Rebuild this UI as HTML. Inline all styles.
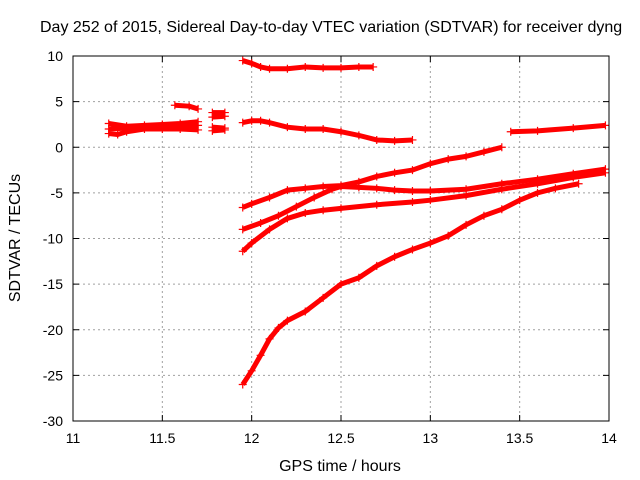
<!DOCTYPE html>
<html><head><meta charset="utf-8"><style>
body{margin:0;background:#fff}
svg{display:block;font-family:"Liberation Sans",sans-serif}
</style></head><body>
<svg id="chart" width="640" height="480" viewBox="0 0 640 480">
<text x="40" y="32" font-size="16">Day 252 of 2015, Sidereal Day-to-day VTEC variation (SDTVAR) for receiver dyng</text>
<g id="grid"></g>
<g id="ticks"></g>
<g id="series"></g>
<rect x="73" y="56" width="536" height="365" fill="none" stroke="#000" stroke-width="1"/>
<text x="340" y="471" font-size="16" text-anchor="middle">GPS time / hours</text>
<text transform="translate(20,238) rotate(-90)" font-size="16" text-anchor="middle">SDTVAR / TECUs</text>
</svg>
<script>
const xTicks=[11,11.5,12,12.5,13,13.5,14];
const xTickLabels=["11","11.5","12","12.5","13","13.5","14"];
const yTicks=[10,5,0,-5,-10,-15,-20,-25,-30];
const yTickLabels=["10","5","0","-5","-10","-15","-20","-25","-30"];
const sA=[[11.95,9.5],[12.0,9.2],[12.05,8.8],[12.1,8.6],[12.2,8.6],[12.3,8.8],[12.4,8.7],[12.5,8.7],[12.6,8.8],[12.68,8.8]];
const sB=[[11.95,2.7],[12.0,2.9],[12.05,2.9],[12.1,2.7],[12.2,2.2],[12.3,2.0],[12.4,2.0],[12.5,1.7],[12.6,1.3],[12.7,0.8],[12.8,0.7],[12.9,0.8]];
const sC1=[[11.2,2.6],[11.3,2.3],[11.4,2.4],[11.5,2.5],[11.6,2.6],[11.7,2.8]];
const sC2=[[11.2,1.5],[11.25,1.4],[11.3,1.7],[11.4,2.0],[11.5,2.0],[11.6,2.0],[11.7,1.9]];
const sC3=[[11.2,2.0],[11.3,2.1],[11.4,2.2],[11.5,2.3],[11.6,2.3],[11.7,2.4]];
const sC4=[[11.57,4.6],[11.65,4.5],[11.7,4.2]];
const sC5=[[11.78,3.8],[11.85,3.8]];
const sC6=[[11.78,3.3],[11.85,3.4]];
const sC7=[[11.78,2.2],[11.85,2.1]];
const sC8=[[11.78,1.8],[11.85,1.9]];
const sD=[[13.45,1.7],[13.6,1.8],[13.8,2.1],[13.98,2.4]];
const sE=[[11.95,-6.6],[12.0,-6.2],[12.1,-5.5],[12.2,-4.7],[12.3,-4.5],[12.4,-4.3],[12.5,-4.2],[12.6,-3.8],[12.7,-3.2],[12.8,-2.8],[12.9,-2.5],[13.0,-1.8],[13.1,-1.3],[13.2,-1.0],[13.3,-0.5],[13.4,0.0]];
const sF=[[11.95,-9.0],[12.05,-8.3],[12.15,-7.5],[12.25,-6.5],[12.35,-5.5],[12.45,-4.6],[12.5,-4.3],[12.6,-4.4],[12.7,-4.5],[12.8,-4.7],[12.9,-4.8],[13.0,-4.8],[13.2,-4.6],[13.4,-4.0],[13.6,-3.5],[13.8,-2.9],[13.98,-2.4]];
const sG=[[11.95,-11.4],[12.0,-10.5],[12.1,-9.0],[12.2,-7.8],[12.3,-7.2],[12.4,-6.9],[12.5,-6.7],[12.7,-6.3],[12.9,-6.0],[13.0,-5.8],[13.2,-5.3],[13.4,-4.6],[13.6,-4.0],[13.8,-3.3],[13.98,-2.8]];
const sH=[[11.95,-26],[12.0,-24.5],[12.05,-22.8],[12.1,-21],[12.15,-19.8],[12.2,-19.0],[12.3,-18.0],[12.4,-16.5],[12.5,-15.0],[12.6,-14.3],[12.7,-13.0],[12.8,-12.0],[12.9,-11.2],[13.0,-10.5],[13.1,-9.7],[13.2,-8.5],[13.3,-7.5],[13.4,-6.8],[13.5,-5.8],[13.6,-5.0],[13.7,-4.5],[13.83,-4.0]];
const allSeries=[sA,sB,sC1,sC2,sC3,sC4,sC5,sC6,sC7,sC8,sD,sE,sF,sG,sH];

const X=h=>73+(h-11)*536/3;
const Y=v=>56+(10-v)*365/40;
const NS="http://www.w3.org/2000/svg";
const grid=document.getElementById('grid'),ticks=document.getElementById('ticks'),ser=document.getElementById('series');
function mk(t,a,p){const e=document.createElementNS(NS,t);for(const k in a)e.setAttribute(k,a[k]);p.appendChild(e);return e;}
xTicks.forEach((t,i)=>{
  const x=X(t);
  if(i>0&&i<xTicks.length-1){const g=mk('line',{x1:x,x2:x,y1:56,y2:421,stroke:'#a0a0a0','stroke-dasharray':'2,3'},grid);
  
  }
  const a=mk('line',{x1:x,x2:x,y1:421,y2:415,stroke:'#000'},ticks);
  
  
  const b=mk('line',{x1:x,x2:x,y1:56,y2:62,stroke:'#000'},ticks);
  
  
  const l=mk('text',{x:x,y:443,'font-size':14,'text-anchor':'middle'},ticks);l.textContent=xTickLabels[i];
  
  
});
yTicks.forEach((t,i)=>{
  const y=Y(t);
  if(i>0&&i<yTicks.length-1){const g=mk('line',{x1:73,x2:609,y1:y,y2:y,stroke:'#a0a0a0','stroke-dasharray':'2,3'},grid);
  
  }
  const a=mk('line',{x1:73,x2:79,y1:y,y2:y,stroke:'#000'},ticks);
  
  
  const b=mk('line',{x1:609,x2:603,y1:y,y2:y,stroke:'#000'},ticks);
  
  
  const l=mk('text',{x:63,y:y+5,'font-size':14,'text-anchor':'end'},ticks);l.textContent=yTickLabels[i];
  
  
});
allSeries.forEach((s,si)=>{
  const pl=mk('polyline',{points:s.map(p=>X(p[0])+','+Y(p[1])).join(' '),fill:'none',stroke:'#f00','stroke-width':5,'stroke-linejoin':'round'},ser);
  
  
  s.forEach(p=>{
    const x=X(p[0]),y=Y(p[1]);
    const m=mk('path',{d:`M${x-4},${y}h8M${x},${y-4}v8`,stroke:'#f00','stroke-width':1.2},ser);
    
    
  });
});
</script>
</body></html>
